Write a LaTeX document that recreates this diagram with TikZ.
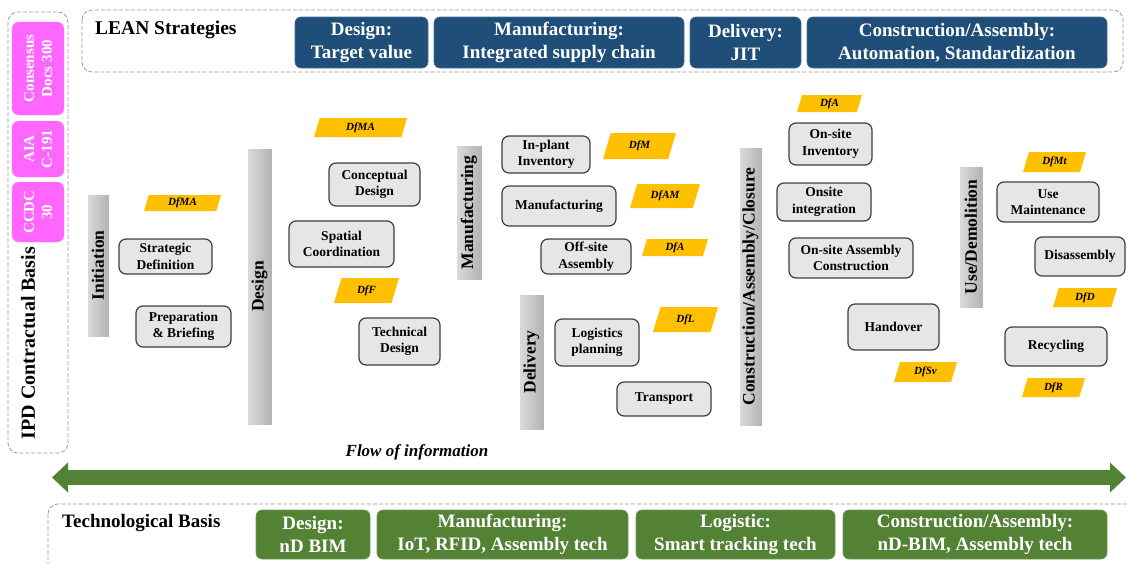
\documentclass[tikz,border=0pt]{standalone}
\usepackage{fontspec}
\setmainfont{Liberation Serif}
\usetikzlibrary{arrows.meta}
\definecolor{leanblue}{HTML}{1F4E79}
\definecolor{leanblueline}{HTML}{41719C}
\definecolor{techgreen}{HTML}{548235}
\definecolor{techgreenline}{HTML}{6F9A50}
\definecolor{pinkc}{HTML}{FF66FF}
\definecolor{tagorange}{HTML}{FFC000}
\definecolor{boxfill}{HTML}{E7E6E6}
\definecolor{boxline}{HTML}{3F3F3F}
\definecolor{dashc}{HTML}{9A9A9A}
\newcommand\dftag[6]{%
  \fill[tagorange] ({#2+0.3*(#5-#3)},#3) -- (#4,#3) -- ({#4-0.3*(#5-#3)},#5) -- (#2,#5) -- cycle;
  \node[tagtext] (#1) at ({(#2+#4)/2},{(#3+#5)/2}) {#6};}
\tikzset{
  gbox/.style={draw=boxline, fill=boxfill, rounded corners=7pt, line width=1.2pt, align=center,
    font=\fontsize{13.5}{16.5}\selectfont\bfseries, inner sep=0pt},
  phasebar/.style={rotate=90, left color=black!14, right color=black!30, draw=white, line width=0.6pt,
    inner sep=0pt, font=\fontsize{17.5}{20}\selectfont\bfseries},
  pinkbox/.style={rotate=90, fill=pinkc, draw=pinkc!85!white, rounded corners=7pt, text=white, align=center,
    font=\fontsize{15}{18}\selectfont\bfseries, inner sep=0pt, minimum height=52pt},
  bluebox/.style={fill=leanblue, draw=leanblueline, line width=0.6pt, rounded corners=6pt, text=white, align=center,
    font=\fontsize{19}{23}\selectfont\bfseries, inner sep=0pt, minimum height=51pt},
  greenbox/.style={fill=techgreen, draw=techgreenline, line width=0.6pt, rounded corners=6pt, text=white, align=center,
    font=\fontsize{19}{23}\selectfont\bfseries, inner sep=0pt, minimum height=49pt},
  dashbox/.style={draw=dashc, dashed, dash pattern=on 4pt off 2pt, rounded corners=10pt, line width=0.8pt},
  tagtext/.style={font=\fontsize{11}{13}\selectfont\bfseries\itshape, inner sep=0pt},
  titletext/.style={font=\fontsize{19.5}{22}\selectfont\bfseries, inner sep=0pt},
}
\begin{document}
\begin{tikzpicture}[x=1pt,y=-1pt]
\useasboundingbox[fill=white] (0,0) rectangle (1127,563);

% Left IPD contractual basis
\draw[dashbox] (8,12) rectangle (68,453);
\node[pinkbox, minimum width=93pt] (cons) at (38,68.5) {Consensus\\Docs 300};
\node[pinkbox, minimum width=56pt] (aia) at (38,149) {AIA\\C-191};
\node[pinkbox, minimum width=60pt] (ccdc) at (38,212) {CCDC\\30};
\node[titletext, rotate=90, font=\fontsize{20}{22}\selectfont\bfseries] (ipd) at (28,343) {IPD Contractual Basis};

% LEAN strategies
\draw[dashbox] (82,10) rectangle (1123,72);
\node[titletext, anchor=west] (lean) at (95,30) {LEAN Strategies};
\node[bluebox, minimum width=133pt] (lb1) at (361.5,42.5) {Design:\\Target value};
\node[bluebox, minimum width=250pt] (lb2) at (559,42.5) {Manufacturing:\\Integrated supply chain};
\node[bluebox, minimum width=111pt] (lb3) at (745.5,42.5) {Delivery:\\JIT};
\node[bluebox, minimum width=300pt] (lb4) at (957,42.5) {Construction/Assembly:\\Automation, Standardization};

% Phase bars
\node[phasebar, minimum width=143pt, minimum height=22pt] (pinit) at (98,265.5) {Initiation};
\node[phasebar, minimum width=277pt, minimum height=25pt] (pdes) at (259.5,286.5) {Design};
\node[phasebar, minimum width=135pt, minimum height=26pt] (pman) at (469,212.5) {Manufacturing};
\node[phasebar, minimum width=136pt, minimum height=25pt] (pdel) at (531.5,362) {Delivery};
\node[phasebar, minimum width=279pt, minimum height=23pt] (pcon) at (750.5,286.5) {Construction/Assembly/Closure};
\node[phasebar, minimum width=142pt, minimum height=24pt] (puse) at (971,237) {Use/Demolition};

% Activity boxes
\node[gbox, minimum width=93pt, minimum height=35pt] (sd) at (165.5,256.5) {Strategic\\Definition};
\node[gbox, minimum width=95pt, minimum height=41pt] (pb) at (183.5,326.5) {Preparation\\\& Briefing};
\node[gbox, minimum width=91pt, minimum height=43pt] (cd) at (374.5,184.5) {Conceptual\\Design};
\node[gbox, minimum width=105pt, minimum height=46pt] (sc) at (341.5,244) {Spatial\\Coordination};
\node[gbox, minimum width=81pt, minimum height=47pt] (td) at (399.5,341.5) {Technical\\Design};
\node[gbox, minimum width=88pt, minimum height=37pt] (ii) at (546,154.5) {In-plant\\Inventory};
\node[gbox, minimum width=114pt, minimum height=40pt] (mf) at (559,206) {Manufacturing};
\node[gbox, minimum width=90pt, minimum height=35pt] (oa) at (586,256.5) {Off-site\\Assembly};
\node[gbox, minimum width=84pt, minimum height=47pt] (lp) at (597,342.5) {Logistics\\planning};
\node[gbox, minimum width=94pt, minimum height=34pt] (tr) at (664,399) {Transport};
\node[gbox, minimum width=83pt, minimum height=42pt] (oi) at (830.5,144) {On-site\\Inventory};
\node[gbox, minimum width=94pt, minimum height=38pt] (oin) at (824,202) {Onsite\\integration};
\node[gbox, minimum width=124pt, minimum height=40pt] (oac) at (851,258) {On-site Assembly\\Construction};
\node[gbox, minimum width=91pt, minimum height=46pt] (ho) at (893.5,327) {Handover};
\node[gbox, minimum width=102pt, minimum height=40pt] (um) at (1048,202) {Use\\Maintenance};
\node[gbox, minimum width=90pt, minimum height=39pt] (da) at (1080,256.5) {Disassembly};
\node[gbox, minimum width=102pt, minimum height=39pt] (rc) at (1056,346.5) {Recycling};

% DfX tags
\dftag{tA}{144}{195}{221}{211}{DfMA}
\dftag{tB}{314}{118}{407}{137}{DfMA}
\dftag{tC}{334}{278}{399}{303}{DfF}
\dftag{tD}{603}{133}{676}{159}{DfM}
\dftag{tE}{630}{184}{700}{208}{DfAM}
\dftag{tF}{642}{239}{708}{256}{DfA}
\dftag{tG}{653}{307}{718}{332}{DfL}
\dftag{tH}{797}{95}{862}{112}{DfA}
\dftag{tI}{1023}{152}{1086}{172}{DfMt}
\dftag{tJ}{1053}{288}{1117}{307}{DfD}
\dftag{tK}{894}{362}{957}{382}{DfSv}
\dftag{tL}{1022}{378}{1085}{397}{DfR}

% Flow of information
\node[font=\fontsize{17}{20}\selectfont\bfseries\itshape, inner sep=0pt] (flow) at (417,452) {Flow of information};
\coordinate (fl) at (52,477.5);
\coordinate (fr) at (1126,477.5);
\draw[techgreen, line width=15pt,
  {Triangle[length=16pt,width=29pt]}-{Triangle[length=16pt,width=29pt]}] (fl) -- (fr);

% Technological basis
\draw[dashbox] (48,504) rectangle (1140,590);
\node[titletext, anchor=west, font=\fontsize{19}{22}\selectfont\bfseries] (tech) at (62,523) {Technological Basis};
\node[greenbox, minimum width=114pt] (g1) at (313,534.5) {Design:\\nD BIM};
\node[greenbox, minimum width=251pt] (g2) at (502.5,534.5) {Manufacturing:\\IoT, RFID, Assembly tech};
\node[greenbox, minimum width=199pt] (g3) at (735.5,534.5) {Logistic:\\Smart tracking tech};
\node[greenbox, minimum width=264pt] (g4) at (975,534.5) {Construction/Assembly:\\nD-BIM, Assembly tech};
\end{tikzpicture}
\end{document}
